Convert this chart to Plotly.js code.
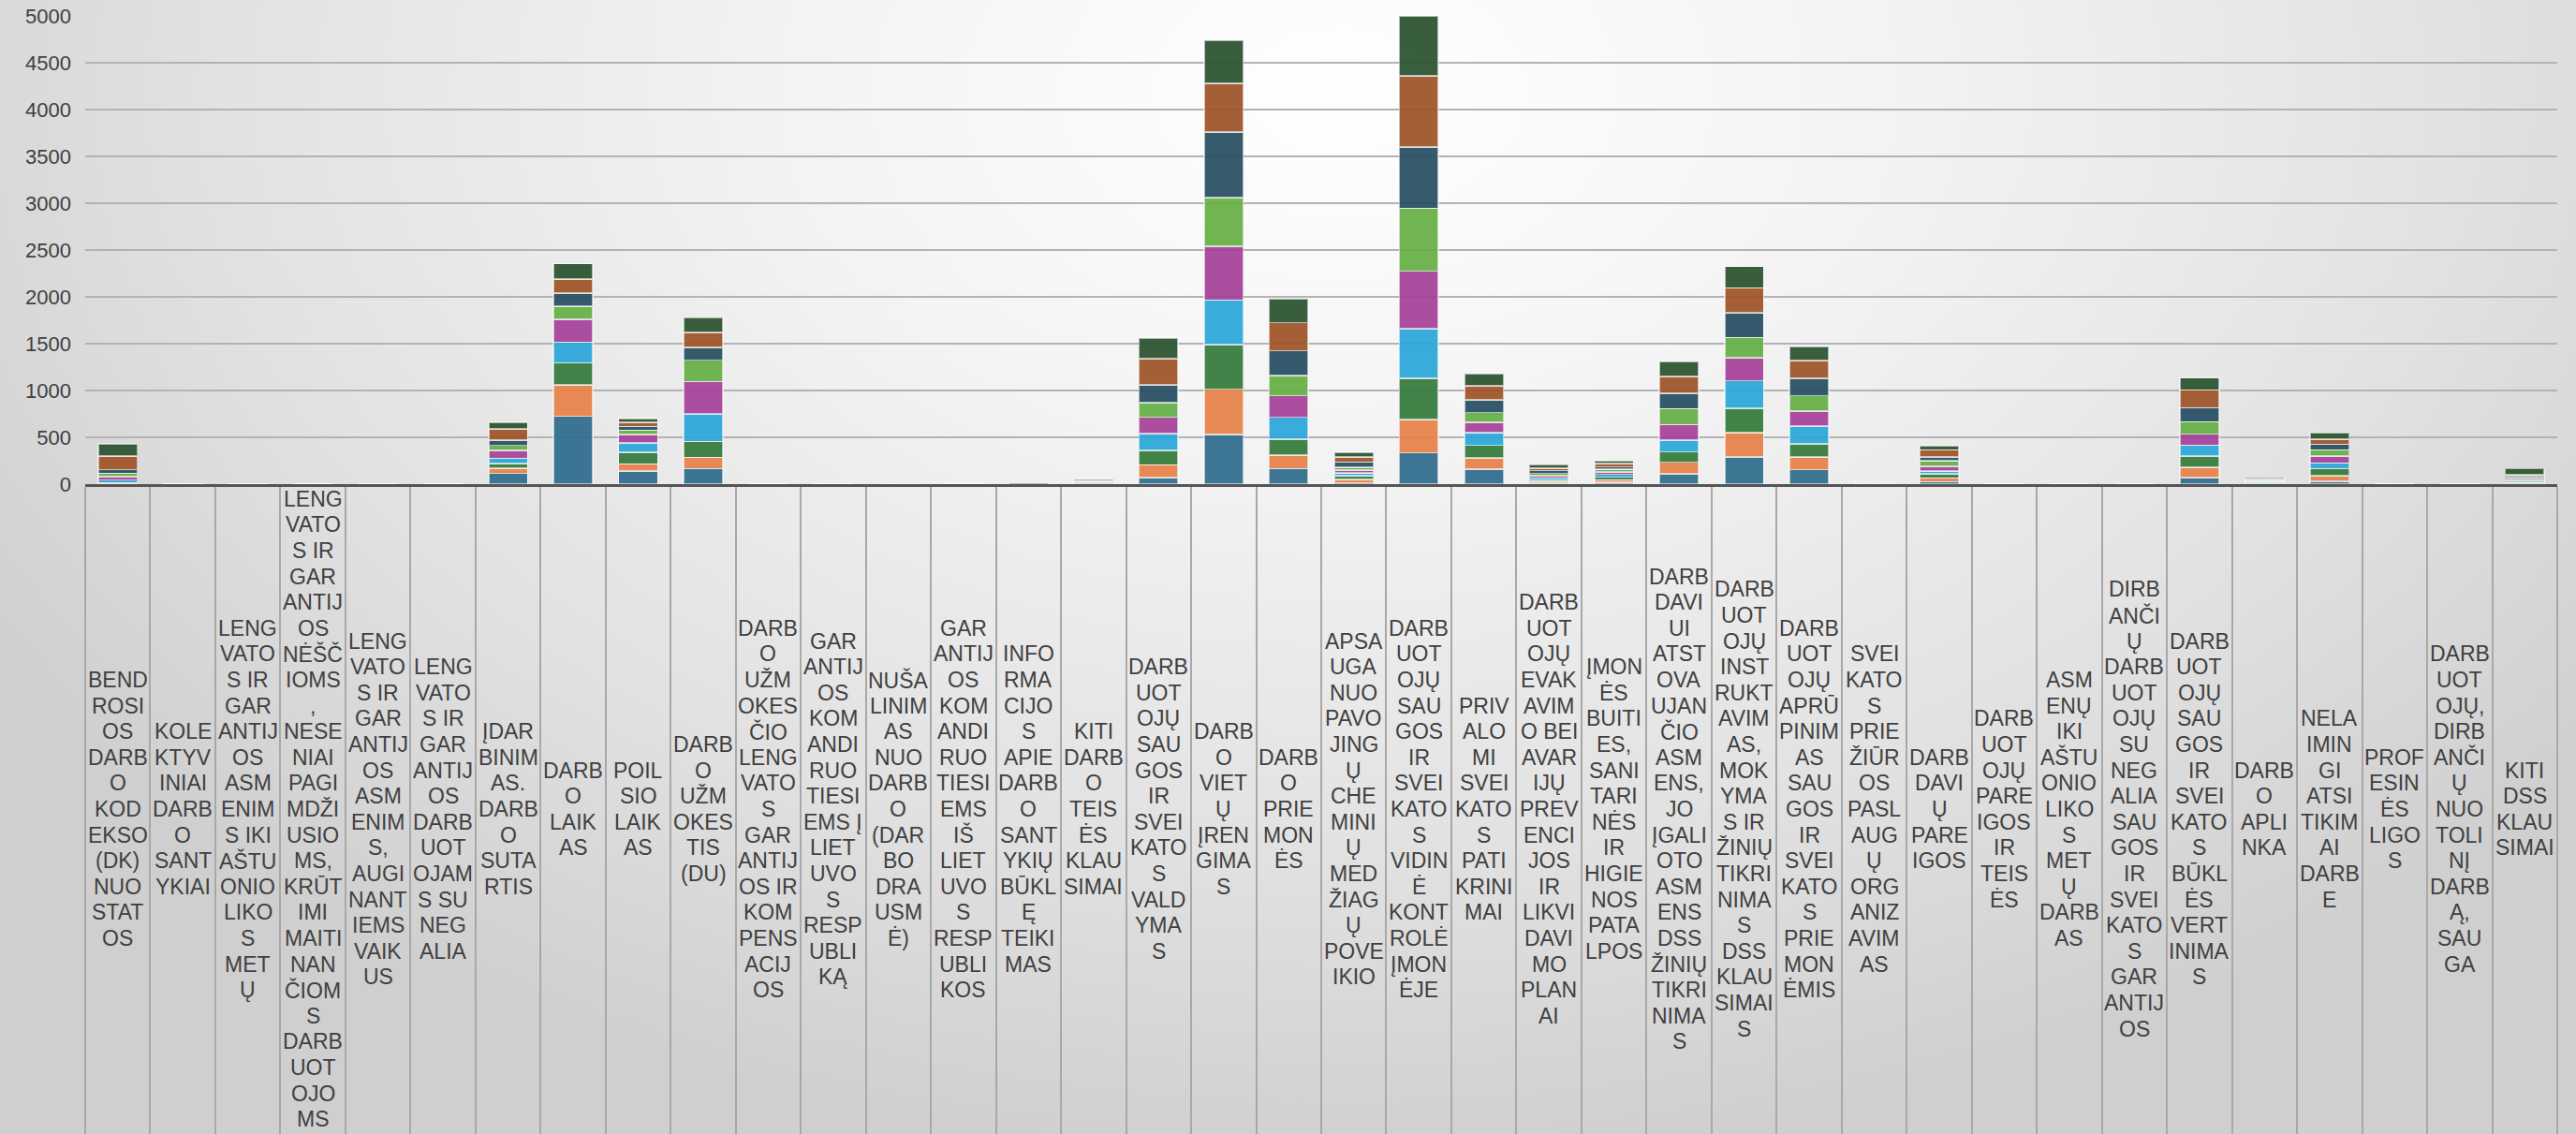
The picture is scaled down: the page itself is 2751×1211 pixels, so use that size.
<!DOCTYPE html>
<html>
<head>
<meta charset="utf-8">
<script src="https://cdn.plot.ly/plotly-3.0.1.min.js"></script>
<style>
html,body{margin:0;padding:0;}
body{width:2751px;height:1211px;overflow:hidden;
background:radial-gradient(ellipse 62% 95% at 52% 8%, #ffffff 0%, #f3f3f3 35%, #e2e2e2 70%, #cfcfcf 100%);}
#chart{width:2751px;height:1211px;}
</style>
</head>
<body>
<div id="chart"></div>
<script>
// Categories (full names)
const categories = [
"BENDROSIOS DARBO KODEKSO (DK) NUOSTATOS",
"KOLEKTYVINIAI DARBO SANTYKIAI",
"LENGVATOS IR GARANTIJOS ASMENIMS IKI AŠTUONIOLIKOS METŲ",
"LENGVATOS IR GARANTIJOS NĖŠČIOMS, NESENIAI PAGIMDŽIUSIOMS, KRŪTIMI MAITINANČIOMS DARBUOTOJOMS",
"LENGVATOS IR GARANTIJOS ASMENIMS, AUGINANTIEMS VAIKUS",
"LENGVATOS IR GARANTIJOS DARBUOTOJAMS SU NEGALIA",
"ĮDARBINIMAS. DARBO SUTARTIS",
"DARBO LAIKAS",
"POILSIO LAIKAS",
"DARBO UŽMOKESTIS (DU)",
"DARBO UŽMOKESČIO LENGVATOS GARANTIJOS IR KOMPENSACIJOS",
"GARANTIJOS KOMANDIRUOTIESIEMS Į LIETUVOS RESPUBLIKĄ",
"NUŠALINIMAS NUO DARBO (DARBO DRAUSMĖ)",
"GARANTIJOS KOMANDIRUOTIESIEMS IŠ LIETUVOS RESPUBLIKOS",
"INFORMACIJOS APIE DARBO SANTYKIŲ BŪKLĘ TEIKIMAS",
"KITI DARBO TEISĖS KLAUSIMAI",
"DARBUOTOJŲ SAUGOS IR SVEIKATOS VALDYMAS",
"DARBO VIETŲ ĮRENGIMAS",
"DARBO PRIEMONĖS",
"APSAUGA NUO PAVOJINGŲ CHEMINIŲ MEDŽIAGŲ POVEIKIO",
"DARBUOTOJŲ SAUGOS IR SVEIKATOS VIDINĖ KONTROLĖ ĮMONĖJE",
"PRIVALOMI SVEIKATOS PATIKRINIMAI",
"DARBUOTOJŲ EVAKAVIMO BEI AVARIJŲ PREVENCIJOS IR LIKVIDAVIMO PLANAI",
"ĮMONĖS BUITIES, SANITARINĖS IR HIGIENOS PATALPOS",
"DARBDAVIUI ATSTOVAUJANČIO ASMENS, JO ĮGALIOTO ASMENS DSS ŽINIŲ TIKRINIMAS",
"DARBUOTOJŲ INSTRUKTAVIMAS, MOKYMAS IR ŽINIŲ TIKRINIMAS DSS KLAUSIMAIS",
"DARBUOTOJŲ APRŪPINIMAS SAUGOS IR SVEIKATOS PRIEMONĖMIS",
"SVEIKATOS PRIEŽIŪROS PASLAUGŲ ORGANIZAVIMAS",
"DARBDAVIŲ PAREIGOS",
"DARBUOTOJŲ PAREIGOS IR TEISĖS",
"ASMENŲ IKI AŠTUONIOLIKOS METŲ DARBAS",
"DIRBANČIŲ DARBUOTOJŲ SU NEGALIA SAUGOS IR SVEIKATOS GARANTIJOS",
"DARBUOTOJŲ SAUGOS IR SVEIKATOS BŪKLĖS VERTINIMAS",
"DARBO APLINKA",
"NELAIMINGI ATSITIKIMAI DARBE",
"PROFESINĖS LIGOS",
"DARBUOTOJŲ, DIRBANČIŲ NUOTOLINĮ DARBĄ, SAUGA",
"KITI DSS KLAUSIMAI"
];

// Tick labels as wrapped in the reference ("|" = line break)
const tickLabels = [
"BEND|ROSI|OS|DARB|O|KOD|EKSO|(DK)|NUO|STAT|OS",
"KOLE|KTYV|INIAI|DARB|O|SANT|YKIAI",
"LENG|VATO|S IR|GAR|ANTIJ|OS|ASM|ENIM|S IKI|AŠTU|ONIO|LIKO|S|MET|Ų",
"LENG|VATO|S IR|GAR|ANTIJ|OS|NĖŠČ|IOMS|,|NESE|NIAI|PAGI|MDŽI|USIO|MS,|KRŪT|IMI|MAITI|NAN|ČIOM|S|DARB|UOT|OJO|MS",
"LENG|VATO|S IR|GAR|ANTIJ|OS|ASM|ENIM|S,|AUGI|NANT|IEMS|VAIK|US",
"LENG|VATO|S IR|GAR|ANTIJ|OS|DARB|UOT|OJAM|S SU|NEG|ALIA",
"ĮDAR|BINIM|AS.|DARB|O|SUTA|RTIS",
"DARB|O|LAIK|AS",
"POIL|SIO|LAIK|AS",
"DARB|O|UŽM|OKES|TIS|(DU)",
"DARB|O|UŽM|OKES|ČIO|LENG|VATO|S|GAR|ANTIJ|OS IR|KOM|PENS|ACIJ|OS",
"GAR|ANTIJ|OS|KOM|ANDI|RUO|TIESI|EMS Į|LIET|UVO|S|RESP|UBLI|KĄ",
"NUŠA|LINIM|AS|NUO|DARB|O|(DAR|BO|DRA|USM|Ė)",
"GAR|ANTIJ|OS|KOM|ANDI|RUO|TIESI|EMS|IŠ|LIET|UVO|S|RESP|UBLI|KOS",
"INFO|RMA|CIJO|S|APIE|DARB|O|SANT|YKIŲ|BŪKL|Ę|TEIKI|MAS",
"KITI|DARB|O|TEIS|ĖS|KLAU|SIMAI",
"DARB|UOT|OJŲ|SAU|GOS|IR|SVEI|KATO|S|VALD|YMA|S",
"DARB|O|VIET|Ų|ĮREN|GIMA|S",
"DARB|O|PRIE|MON|ĖS",
"APSA|UGA|NUO|PAVO|JING|Ų|CHE|MINI|Ų|MED|ŽIAG|Ų|POVE|IKIO",
"DARB|UOT|OJŲ|SAU|GOS|IR|SVEI|KATO|S|VIDIN|Ė|KONT|ROLĖ|ĮMON|ĖJE",
"PRIV|ALO|MI|SVEI|KATO|S|PATI|KRINI|MAI",
"DARB|UOT|OJŲ|EVAK|AVIM|O BEI|AVAR|IJŲ|PREV|ENCI|JOS|IR|LIKVI|DAVI|MO|PLAN|AI",
"ĮMON|ĖS|BUITI|ES,|SANI|TARI|NĖS|IR|HIGIE|NOS|PATA|LPOS",
"DARB|DAVI|UI|ATST|OVA|UJAN|ČIO|ASM|ENS,|JO|ĮGALI|OTO|ASM|ENS|DSS|ŽINIŲ|TIKRI|NIMA|S",
"DARB|UOT|OJŲ|INST|RUKT|AVIM|AS,|MOK|YMA|S IR|ŽINIŲ|TIKRI|NIMA|S|DSS|KLAU|SIMAI|S",
"DARB|UOT|OJŲ|APRŪ|PINIM|AS|SAU|GOS|IR|SVEI|KATO|S|PRIE|MON|ĖMIS",
"SVEI|KATO|S|PRIE|ŽIŪR|OS|PASL|AUG|Ų|ORG|ANIZ|AVIM|AS",
"DARB|DAVI|Ų|PARE|IGOS",
"DARB|UOT|OJŲ|PARE|IGOS|IR|TEIS|ĖS",
"ASM|ENŲ|IKI|AŠTU|ONIO|LIKO|S|MET|Ų|DARB|AS",
"DIRB|ANČI|Ų|DARB|UOT|OJŲ|SU|NEG|ALIA|SAU|GOS|IR|SVEI|KATO|S|GAR|ANTIJ|OS",
"DARB|UOT|OJŲ|SAU|GOS|IR|SVEI|KATO|S|BŪKL|ĖS|VERT|INIMA|S",
"DARB|O|APLI|NKA",
"NELA|IMIN|GI|ATSI|TIKIM|AI|DARB|E",
"PROF|ESIN|ĖS|LIGO|S",
"DARB|UOT|OJŲ,|DIRB|ANČI|Ų|NUO|TOLI|NĮ|DARB|Ą,|SAU|GA",
"KITI|DSS|KLAU|SIMAI"
];

// Series values (bottom to top), one value per category
const series1 = [5,1,0,0,0,0,114,724,138,166,0,0,0,1,1,8,69,531,166,14,334,159,12,20,110,293,155,2,27,0,0,0,73,7,33,0,0,10];
const series2 = [6,1,0,0,0,0,59,338,79,121,0,0,0,1,1,6,138,483,145,34,355,124,18,27,124,259,138,2,40,0,0,0,110,7,60,0,0,10];
const series3 = [6,1,0,0,0,0,48,234,124,169,0,0,0,1,0,5,155,476,172,44,441,131,17,27,110,259,138,2,43,0,0,0,117,8,73,0,0,20];
const series4 = [27,0,0,0,0,0,55,221,100,293,0,0,0,1,1,5,176,476,231,27,528,138,20,30,124,293,190,2,30,0,0,0,117,7,60,0,0,15];
const series5 = [38,0,0,0,0,0,83,241,90,348,0,0,0,1,0,5,176,576,231,34,617,110,24,27,169,248,162,2,53,0,0,0,117,7,73,0,0,10];
const series6 = [34,0,0,0,0,0,55,145,45,228,0,0,0,1,1,4,159,517,217,27,672,103,23,27,169,214,162,2,57,0,0,0,133,7,67,0,0,10];
const series7 = [38,0,0,0,0,0,55,138,41,138,0,0,0,1,0,5,190,700,262,57,655,138,30,27,166,262,183,2,43,0,0,0,150,8,60,0,0,10];
const series8 = [144,0,0,0,0,0,124,152,45,159,0,0,0,1,1,6,276,524,300,54,759,148,24,34,179,269,190,2,73,0,0,0,190,8,57,0,0,15];
const series9 = [133,0,0,0,0,0,69,162,38,155,0,0,0,4,1,4,224,459,259,47,639,128,38,34,159,228,155,3,47,0,0,0,127,8,67,0,0,67];

const seriesValues = [series1,series2,series3,series4,series5,series6,series7,series8,series9];
const seriesNames = ["1","2","3","4","5","6","7","8","9"];
const seriesColors = ["#2f6d8d","#e8824a","#357b3c","#2ca7da","#a6429a","#66b046","#274f63","#9f5429","#2b5330"];

const yTicks = [0,500,1000,1500,2000,2500,3000,3500,4000,4500,5000];

const traces = seriesValues.map((vals, i) => ({
  type: 'bar',
  x: categories,
  y: vals,
  name: seriesNames[i],
  marker: {color: seriesColors[i], opacity: 0.93,
           line: {color: 'rgba(255,255,255,0.6)', width: 1.6}},
  hoverinfo: 'skip'
}));

// Category label annotations, one per wrapped line, centred under each category
const LINE_H = 27.6;
const LABEL_CENTER = 347; // px below the axis
const annotations = [];
tickLabels.forEach((lab, i) => {
  const lines = lab.split('|');
  const n = lines.length;
  lines.forEach((ln, k) => {
    annotations.push({
      x: categories[i], xref: 'x',
      y: 0, yref: 'paper',
      yshift: -LABEL_CENTER - (k - (n - 1) / 2) * LINE_H,
      yanchor: 'middle', xanchor: 'center',
      text: ln, showarrow: false,
      font: {family: 'Liberation Sans, Arial, sans-serif', size: 23, color: '#404040'}
    });
  });
});

const layout = {
  width: 2751, height: 1211,
  margin: {l: 91, r: 20, t: 17, b: 694},
  barmode: 'stack',
  bargap: 0.4,
  showlegend: false,
  paper_bgcolor: 'rgba(0,0,0,0)',
  plot_bgcolor: 'rgba(0,0,0,0)',
  xaxis: {
    type: 'category',
    showticklabels: false,
    ticks: 'outside', tickson: 'boundaries',
    ticklen: 694, tickwidth: 2, tickcolor: '#a8a8a8',
    showline: true, linecolor: '#555555', linewidth: 3,
    showgrid: false, zeroline: false, fixedrange: true
  },
  yaxis: {
    range: [0, 5000],
    tickvals: yTicks,
    ticktext: yTicks.map(String),
    showgrid: true, gridcolor: '#b3b3b3', gridwidth: 2.5,
    zeroline: false, showline: false, ticks: '',
    ticklabelstandoff: 14,
    tickfont: {family: 'Liberation Sans, Arial, sans-serif', size: 22, color: '#404040'},
    fixedrange: true
  },
  annotations: annotations
};

Plotly.newPlot('chart', traces, layout, {displayModeBar: false, staticPlot: true});
</script>
</body>
</html>
